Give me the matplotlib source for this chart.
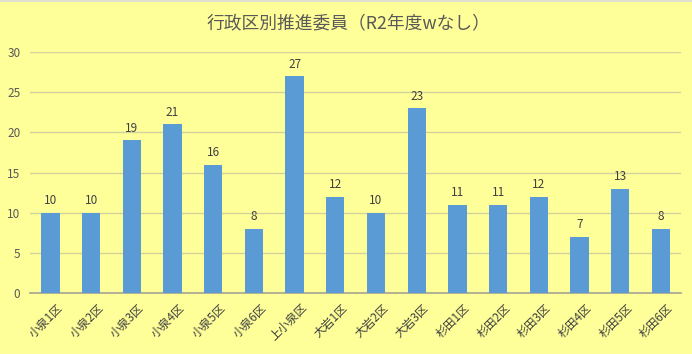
import matplotlib
matplotlib.use("Agg")
from matplotlib import pyplot as plt
from matplotlib.transforms import ScaledTranslation
import numpy as np

categories = ["小泉1区", "小泉2区", "小泉3区", "小泉4区", "小泉5区", "小泉6区", "上小泉区",
              "大岩1区", "大岩2区", "大岩3区", "杉田1区", "杉田2区", "杉田3区", "杉田4区",
              "杉田5区", "杉田6区"]
values = [10, 10, 19, 21, 16, 8, 27, 12, 10, 23, 11, 11, 12, 7, 13, 8]
yticks = [0, 5, 10, 15, 20, 25, 30]
title = "行政区別推進委員（R2年度wなし）"

plt.rcParams['font.family'] = ['Noto Sans CJK JP', 'DejaVu Sans']

bg = "#FFFF99"
fig = plt.figure(figsize=(6.92, 3.54), dpi=100, facecolor=bg)
ax = fig.add_axes([0.0434, 0.172, 0.941, 0.681])
ax.set_facecolor(bg)

x = np.arange(len(categories))
bars = ax.bar(x, values, width=0.45, color="#5B9BD5", zorder=3)
for b, v in zip(bars, values):
    ax.text(b.get_x() + b.get_width() / 2, v + 0.7, str(v), ha="center", va="bottom",
            fontsize=8.5, color="#404040")

ax.set_xlim(-0.5, len(categories) - 0.5)
ax.set_ylim(0, 30)
ax.set_yticks(yticks)
ax.yaxis.grid(True, color="#D2D29C", linewidth=1.0, zorder=0)
for s in ["top", "right", "left"]:
    ax.spines[s].set_visible(False)
ax.spines["bottom"].set_color("#ABAB94")
ax.spines["bottom"].set_linewidth(1.3)
ax.tick_params(axis="both", length=0, labelsize=8.5, colors="#595959")
ax.tick_params(axis="y", pad=7)
ax.tick_params(axis="x", pad=6)
ax.set_xticks(x)
ax.set_xticklabels(categories, rotation=45, ha="right", rotation_mode="anchor",
                   fontsize=8.5, color="#404040")
offset = ScaledTranslation(6 / 100, 0, fig.dpi_scale_trans)
for lbl in ax.get_xticklabels():
    lbl.set_transform(lbl.get_transform() + offset)

fig.text(0.503, 0.935, title, ha="center", va="center", fontsize=12.8, color="#595959")
fig.add_artist(plt.Line2D([0, 1], [0.996, 0.996], transform=fig.transFigure,
                          color="#E0E0D0", linewidth=1.5))

fig.savefig("out.png", dpi=100, facecolor=bg)
